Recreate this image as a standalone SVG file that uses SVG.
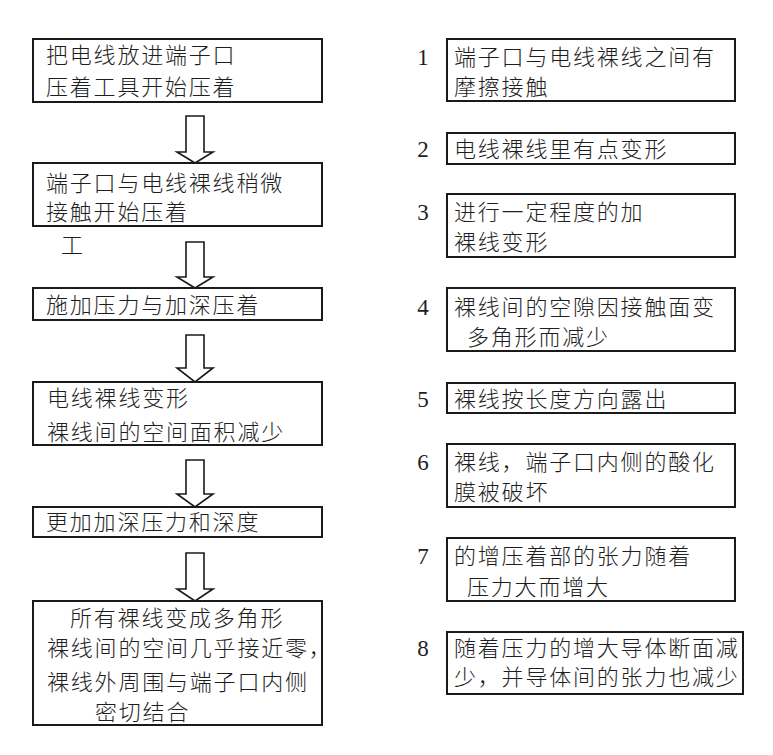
<svg xmlns="http://www.w3.org/2000/svg" width="773" height="755" viewBox="0 0 773 755">
<style>
.box{fill:#fff;stroke:#1a1a1a;stroke-width:2}
.arr{fill:#fff;stroke:#1a1a1a;stroke-width:1.6;stroke-linejoin:miter}
.t{font-family:"Noto Sans CJK SC","Noto Sans CJK JP",sans-serif;font-size:22px;font-weight:300;letter-spacing:1.8px;fill:#1e1e1e}
.n{font-family:"Liberation Serif",serif;font-size:23px;fill:#1e1e1e;text-anchor:middle}
</style>
<rect width="773" height="755" fill="#fff"/>
<g id="connectors">
<path class="arr" d="M186,116 H204 V152 H213 L195,163 L177,152 H186 Z"/>
<path class="arr" d="M186,242 H204 V277 H213 L195,288 L177,277 H186 Z"/>
<path class="arr" d="M186,335 H204 V368 H213 L195,382 L177,368 H186 Z"/>
<path class="arr" d="M186,460 H204 V494 H213 L195,507 L177,494 H186 Z"/>
<path class="arr" d="M186,553 H204 V589 H213 L195,601 L177,589 H186 Z"/>
</g>
<g id="step1"><rect class="box" x="33" y="39" width="289" height="63"/>
<text class="t" x="46" y="63">把电线放进端子口</text><text class="t" x="46" y="95">压着工具开始压着</text></g>
<g id="step2"><rect class="box" x="33" y="163" width="289" height="63"/>
<text class="t" x="46" y="191">端子口与电线裸线稍微</text><text class="t" x="46" y="220">接触开始压着</text>
<text class="t" x="61" y="253">工</text></g>
<g id="step3"><rect class="box" x="33" y="288" width="289" height="32"/>
<text class="t" x="46" y="313">施加压力与加深压着</text></g>
<g id="step4"><rect class="box" x="33" y="382" width="289" height="63"/>
<text class="t" x="47" y="406">电线裸线变形</text><text class="t" x="47" y="440">裸线间的空间面积减少</text></g>
<g id="step5"><rect class="box" x="33" y="507" width="289" height="30"/>
<text class="t" x="46" y="530">更加加深压力和深度</text></g>
<g id="step6"><rect class="box" x="33" y="601" width="289" height="124"/>
<text class="t" x="70" y="626">所有裸线变成多角形</text>
<text class="t" x="47" y="656">裸线间的空间几乎接近零，</text>
<text class="t" x="47" y="690">裸线外周围与端子口内侧</text>
<text class="t" x="95" y="720">密切结合</text></g>
<g id="note1"><text class="n" x="423" y="65">1</text><rect class="box" x="447" y="39" width="288" height="62"/>
<text class="t" x="454" y="65">端子口与电线裸线之间有</text><text class="t" x="454" y="95">摩擦接触</text></g>
<g id="note2"><text class="n" x="423" y="157">2</text><rect class="box" x="447" y="133" width="288" height="31"/>
<text class="t" x="454" y="157">电线裸线里有点变形</text></g>
<g id="note3"><text class="n" x="423" y="220">3</text><rect class="box" x="447" y="194" width="288" height="63"/>
<text class="t" x="454" y="220">进行一定程度的加</text><text class="t" x="454" y="250">裸线变形</text></g>
<g id="note4"><text class="n" x="423" y="315">4</text><rect class="box" x="447" y="288" width="288" height="63"/>
<text class="t" x="454" y="315">裸线间的空隙因接触面变</text><text class="t" x="467" y="345">多角形而减少</text></g>
<g id="note5"><text class="n" x="423" y="407">5</text><rect class="box" x="447" y="383" width="288" height="30"/>
<text class="t" x="454" y="407">裸线按长度方向露出</text></g>
<g id="note6"><text class="n" x="423" y="470">6</text><rect class="box" x="447" y="444" width="288" height="63"/>
<text class="t" x="454" y="470">裸线，端子口内侧的酸化</text><text class="t" x="454" y="500">膜被破坏</text></g>
<g id="note7"><text class="n" x="423" y="564">7</text><rect class="box" x="447" y="538" width="288" height="63"/>
<text class="t" x="454" y="564">的增压着部的张力随着</text><text class="t" x="467" y="595">压力大而增大</text></g>
<g id="note8"><text class="n" x="423" y="656">8</text><rect class="box" x="447" y="632" width="296" height="62"/>
<text class="t" x="454" y="656">随着压力的增大导体断面减</text><text class="t" x="454" y="685">少，并导体间的张力也减少</text></g>
</svg>
